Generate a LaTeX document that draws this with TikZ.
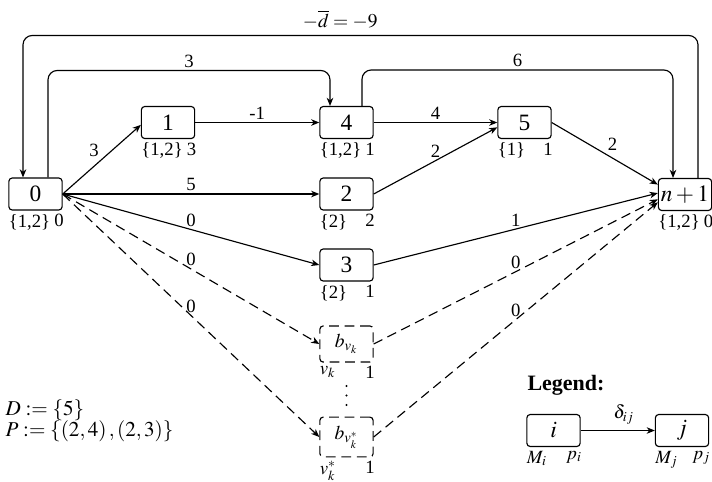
\documentclass[tikz,border=0pt]{standalone}
\usepackage{mathptmx}
\usepackage{fontspec}
\setmainfont{Liberation Serif}
\usetikzlibrary{arrows.meta}

\begin{document}
\begin{tikzpicture}[x=0.0216cm, y=-0.0216cm, >={Stealth[length=5pt,width=4pt,inset=1.5pt]}, line width=0.7pt]
    \tikzstyle{job}=[rectangle, draw, rounded corners=2pt, minimum width=1.15cm, minimum height=0.69cm, inner sep=1pt, font=\Large]
    \tikzstyle{longdash}=[dash pattern=on 6pt off 3.5pt]
    \tikzstyle{dummy}=[job, longdash, font=\large]
    \tikzstyle{ann}=[inner ysep=2pt, inner xsep=0pt, font=\fontsize{11.5}{13}\selectfont]
    \tikzstyle{lbl}=[inner sep=1.5pt, font=\fontsize{11.5}{13}\selectfont]
    \tikzset{ml/.style={label={[ann, anchor=north west]south west:#1}},
             pl/.style={label={[ann, anchor=north east, xshift=1pt]south east:#1}}}
    \useasboundingbox (0,0) rectangle (712,481);

    % jobs
    \node[job, ml={\{1,2\}}, pl={0}] (n0) at (35.5,194) {0};
    \node[job, ml={\{1,2\}}, pl={3}] (n1) at (168,122.5) {1};
    \node[job, ml={\{1,2\}}, pl={1}] (n4) at (346.5,122.5) {4};
    \node[job, ml={\{1\}}, pl={1}] (n5) at (524.5,122.5) {5};
    \node[job, ml={\{2\}}, pl={2}] (n2) at (346.5,194) {2};
    \node[job, ml={\{2\}}, pl={1}] (n3) at (346.5,265) {3};
    \node[job, ml={\{1,2\}}, pl={0}] (np1) at (685,194.5) {$n+1$};
    \node[dummy, minimum height=0.78cm, ml={$v_k$}, pl={1}] (bv) at (346.5,344) {$b_{v_k}$};
    \node[dummy, minimum height=0.86cm, ml={$v_k^*$}, pl={1}] (bvs) at (346.5,437) {$b_{v_k^*}$};
    \foreach \y in {386,395.5,405}
        \fill (346.5,\y) circle (0.75pt);

    % arcs
    \draw[->] (n0.east) -- node[lbl, above left] {3} (n1.185);
    \draw[->] (n1) -- node[lbl, above] {-1} (n4);
    \draw[->] (n4) -- node[lbl, above] {4} (n5);
    \draw[->] (n0) -- node[lbl, above] {5} (n2);
    \draw[->] (n0.east) -- node[lbl, above] {0} (n3.west);
    \draw[->] (n2.east) -- node[lbl, above] {2} (n5.190);
    \draw[->] (n5.east) -- node[lbl, above right] {2} (np1.160);
    \draw[->] (n3.east) -- node[lbl, above] {1} (np1.177);
    \draw[->, longdash] (n0.east) -- node[lbl, above] {0} (bv.west);
    \draw[->, longdash] (n0.east) -- node[lbl, above] {0} (bvs.west);
    \draw[->, longdash] (bv.east) -- node[lbl, above] {0} (np1.190);
    \draw[->, longdash] (bvs.east) -- node[lbl, above] {0} (np1.196);

    \draw[->, rounded corners=0.2cm] ([shift={(12.5,0)}]n0.north) -- ++(0,-107) -| node[lbl, above, pos=0.25] {3} ([shift={(-16.5,0)}]n4.north);
    \draw[->, rounded corners=0.2cm] ([shift={(15.5,0)}]n4.north) -- ++(0,-36) -| node[lbl, above, pos=0.25] {6} ([shift={(-12,0)}]np1.north);
    \draw[->, rounded corners=0.2cm] ([shift={(13,0)}]np1.north) -- ++(0,-142.5) -| node[above, font=\large, pos=0.265] {$-\overline{d} = -9$} ([shift={(-12.5,0)}]n0.north);

    % sets
    \node[font=\fontsize{13}{15}\selectfont, align=left, anchor=west, inner sep=0pt] (sets) at (5,421) {$D := \{5\}$\\[-2pt]$P := \{(2,4)\,,(2,3)\}$};

    % legend
    \node[font=\fontsize{13.5}{15}\selectfont\bfseries] (leg) at (566,385) {Legend:};
    \node[job, ml={$M_i$}, pl={$p_i$}] (li) at (553.5,430.5) {$i$};
    \node[job, ml={$M_j$}, pl={$p_j$}] (lj) at (682,430.5) {$j$};
    \draw[->] (li) -- node[lbl, above, inner sep=3.5pt, pos=0.58] {$\delta_{ij}$} (lj);
\end{tikzpicture}
\end{document}
